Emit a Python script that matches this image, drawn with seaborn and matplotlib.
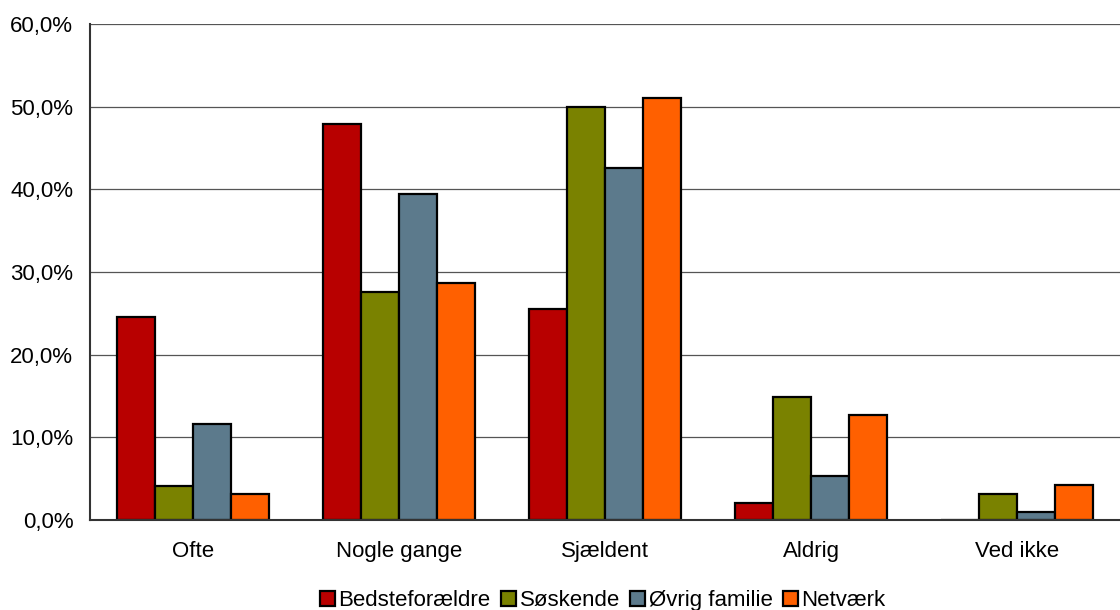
import pandas as pd
import matplotlib.pyplot as plt
import seaborn as sns
from matplotlib.ticker import FixedLocator, FuncFormatter, NullFormatter

# Data (percent)
categories = ["Ofte", "Nogle gange", "Sjældent", "Aldrig", "Ved ikke"]
groups = ["Bedsteforældre", "Søskende", "Øvrig familie", "Netværk"]
bedsteforaeldre = [24.5, 47.9, 25.5, 2.1, 0.0]
soeskende = [4.1, 27.6, 50.0, 14.9, 3.1]
oevrig_familie = [11.6, 39.4, 42.6, 5.3, 1.0]
netvaerk = [3.2, 28.7, 51.1, 12.7, 4.2]
colors = ["#B80000", "#7A8200", "#5C7A8C", "#FF6000"]

df = pd.DataFrame({
    "kategori": categories * 4,
    "gruppe": [g for g in groups for _ in categories],
    "andel": bedsteforaeldre + soeskende + oevrig_familie + netvaerk,
})

sns.set_style("white")
plt.rcParams["font.family"] = ["Liberation Sans", "DejaVu Sans"]
plt.rcParams["text.color"] = "black"
plt.rcParams["xtick.color"] = "black"
plt.rcParams["ytick.color"] = "black"

fig = plt.figure(figsize=(11.2, 6.1), dpi=100)
ax = fig.add_axes([90 / 1120, 1 - 520 / 610, 1 - 90 / 1120, (520 - 24) / 610])

sns.barplot(data=df, x="kategori", y="andel", hue="gruppe", order=categories,
            hue_order=groups, palette=colors, width=0.74, saturation=1,
            edgecolor="black", linewidth=1.6, ax=ax)

ax.set_xlim(-0.5, 4.5)
ax.set_ylim(0, 60)
ax.set_yticks(range(0, 61, 10))
ax.yaxis.set_major_formatter(FuncFormatter(lambda v, p: f"{v:.1f}%".replace(".", ",")))
ax.yaxis.grid(True, color="#555555", linewidth=0.9)
ax.set_axisbelow(True)

# category labels on minor ticks, tick marks at the category boundaries
ax.xaxis.set_major_locator(FixedLocator([-0.5, 0.5, 1.5, 2.5, 3.5, 4.5]))
ax.xaxis.set_major_formatter(NullFormatter())
ax.xaxis.set_minor_locator(FixedLocator(range(5)))
ax.set_xticklabels(categories, minor=True)
ax.tick_params(axis="x", which="major", length=6, width=1, color="#333333", direction="out")
ax.tick_params(axis="x", which="minor", length=0, pad=15, labelsize=16)
ax.tick_params(axis="y", length=6, width=1, color="#333333", direction="out", pad=6, labelsize=16)
ax.set_xlabel("")
ax.set_ylabel("")

for side in ["top", "right"]:
    ax.spines[side].set_visible(False)
for side in ["left", "bottom"]:
    ax.spines[side].set_color("#333333")
    ax.spines[side].set_linewidth(1.5)

handles, labels = ax.get_legend_handles_labels()
ax.legend_.remove()
fig.legend(handles, labels, loc="lower center", bbox_to_anchor=(0.538, -0.035), ncol=4,
           frameon=False, fontsize=16, handlelength=0.7, handleheight=0.7,
           handletextpad=0.15, columnspacing=0.45)

plt.savefig("out.png", dpi=100)
